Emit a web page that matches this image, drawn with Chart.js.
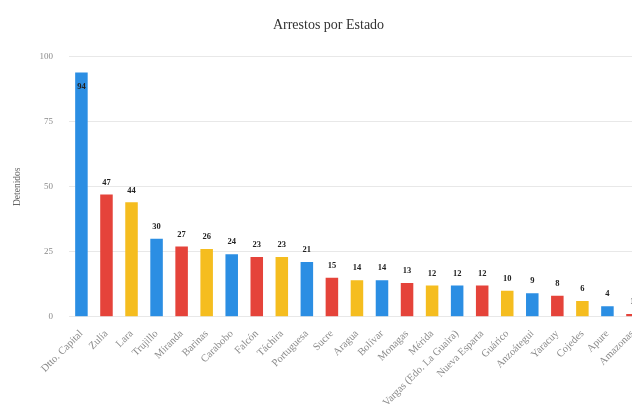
<!DOCTYPE html>
<html>
<head>
<meta charset="utf-8">
<script src="https://cdn.jsdelivr.net/npm/chart.js@4"></script>
<style>
  html, body { margin: 0; padding: 0; background: #fff; overflow: hidden; }
  #wrap { width: 645px; height: 412px; }
</style>
</head>
<body>
<div id="wrap"><canvas id="barChart"></canvas></div>
<script>
// datos
var estados = ["Dtto. Capital", "Zulia", "Lara", "Trujillo", "Miranda", "Barinas",
  "Carabobo", "Falcón", "Táchira", "Portuguesa", "Sucre", "Aragua", "Bolívar",
  "Monagas", "Mérida", "Vargas (Edo. La Guaira)", "Nueva Esparta", "Guárico",
  "Anzoátegui", "Yaracuy", "Cojedes", "Apure", "Amazonas"];
var detenidos = [94, 47, 44, 30, 27, 26, 24, 23, 23, 21, 15, 14, 14, 13, 12, 12, 12, 10, 9, 8, 6, 4, 1];
var yTicks = [0, 25, 50, 75, 100];
var palette = ["#2b8ee3", "#e5433a", "#f5bd1f"];

var colores = estados.map(function (e, i) { return palette[i % 3]; });

// etiquetas de valor encima de cada barra
var valueLabels = {
  id: "valueLabels",
  afterDatasetsDraw: function (chart) {
    var ctx = chart.ctx;
    var meta = chart.getDatasetMeta(0);
    ctx.save();
    ctx.font = "bold 8.5px 'Liberation Serif', serif";
    ctx.fillStyle = "#222";
    ctx.textAlign = "center";
    ctx.textBaseline = "middle";
    meta.data.forEach(function (bar, i) {
      var y = bar.y - 12;
      if (y < chart.chartArea.top + 10) y = bar.y + 14;
      ctx.fillText(detenidos[i], bar.x, y);
    });
    ctx.restore();
  }
};

var ctx = document.getElementById("barChart").getContext("2d");
var myChart = new Chart(ctx, {
  type: "bar",
  data: {
    labels: estados,
    datasets: [{
      data: detenidos,
      backgroundColor: colores,
      barPercentage: 0.5,
      categoryPercentage: 1
    }]
  },
  options: {
    responsive: true,
    maintainAspectRatio: false,
    animation: false,
    layout: { padding: { top: 17, left: 12, right: 0, bottom: 0 } },
    plugins: {
      legend: { display: false },
      tooltip: { enabled: false },
      title: {
        display: true,
        text: "Arrestos por Estado",
        color: "#333",
        font: { family: "'Liberation Serif', serif", size: 14, weight: "normal" },
        padding: { top: 0, bottom: 23 }
      }
    },
    scales: {
      x: {
        grid: { display: false },
        border: { display: false },
        afterFit: function (axis) {
          // la etiqueta girada no debe empujar el area del grafico
          axis.paddingLeft = 0;
        },
        ticks: {
          color: "#8a8a8a",
          font: { family: "'Liberation Serif', serif", size: 10.5 },
          minRotation: 45,
          maxRotation: 45,
          autoSkip: false,
          padding: 3
        }
      },
      y: {
        min: 0,
        max: 100,
        afterBuildTicks: function (axis) {
          axis.ticks = yTicks.map(function (v) { return { value: v }; });
        },
        grid: { color: "#e8e8e8", drawTicks: false },
        border: { display: false },
        ticks: {
          color: "#8a8a8a",
          font: { family: "'Liberation Serif', serif", size: 9 },
          padding: 16
        },
        title: {
          display: true,
          text: "Detenidos",
          color: "#666",
          font: { family: "'Liberation Serif', serif", size: 9.5 },
          padding: { top: 0, bottom: 0 }
        }
      }
    }
  },
  plugins: [valueLabels]
});
</script>
</body>
</html>
